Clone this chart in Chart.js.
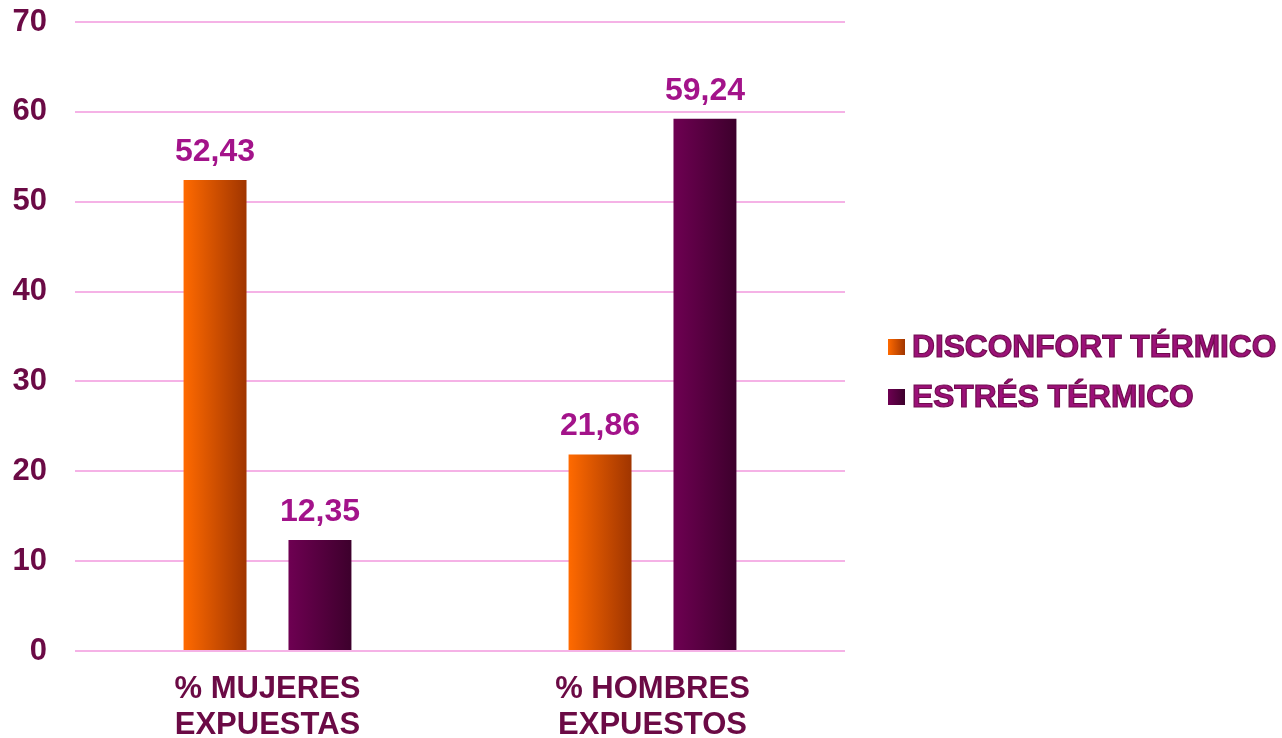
<!DOCTYPE html>
<html>
<head>
<meta charset="utf-8">
<script src="https://cdn.jsdelivr.net/npm/chart.js@4/dist/chart.umd.min.js"></script>
<style>
  html, body { margin: 0; padding: 0; background: #fff; }
  #wrap { width: 1282px; height: 738px; position: relative; }
</style>
</head>
<body>
<div id="wrap"><canvas id="chart"></canvas></div>
<script>
const categories = [["% MUJERES", "EXPUESTAS"], ["% HOMBRES", "EXPUESTOS"]];
const seriesNames = ["DISCONFORT TÉRMICO", "ESTRÉS TÉRMICO"];
const disconfort = [52.43, 21.86];
const estres = [12.35, 59.24];
const yTicks = [0, 10, 20, 30, 40, 50, 60, 70];

const FONT = "'Liberation Sans', Arial, sans-serif";
const TICK_COLOR = "#6b0a45";
const LABEL_COLOR = "#a3138a";
const GRID_COLOR = "#f5b2e6";

const gradStops = [
  ["#ff6a00", "#a03500"],
  ["#6e0052", "#3d002c"]
];

function fmt(v) {
  return v.toFixed(2).replace(".", ",");
}

// horizontal gradient per bar
const barGradient = {
  id: "barGradient",
  beforeDatasetsDraw(chart) {
    const ctx = chart.ctx;
    chart.data.datasets.forEach((ds, i) => {
      const meta = chart.getDatasetMeta(i);
      meta.data.forEach((bar) => {
        const left = bar.x - bar.width / 2;
        const right = bar.x + bar.width / 2;
        const g = ctx.createLinearGradient(left, 0, right, 0);
        g.addColorStop(0, gradStops[i][0]);
        g.addColorStop(1, gradStops[i][1]);
        bar.options = Object.assign({}, bar.options, { backgroundColor: g });
      });
    });
  }
};

const valueLabels = {
  id: "valueLabels",
  afterDatasetsDraw(chart) {
    const ctx = chart.ctx;
    ctx.save();
    ctx.font = "bold 32px " + FONT;
    ctx.fillStyle = LABEL_COLOR;
    ctx.textAlign = "center";
    ctx.textBaseline = "middle";
    chart.data.datasets.forEach((ds, i) => {
      const meta = chart.getDatasetMeta(i);
      meta.data.forEach((bar, j) => {
        ctx.fillText(fmt(ds.data[j]), bar.x, bar.y - 28);
      });
    });
    ctx.restore();
  }
};

const sideLegend = {
  id: "sideLegend",
  afterDraw(chart) {
    const ctx = chart.ctx;
    ctx.save();
    ctx.font = "bold 31.7px " + FONT;
    ctx.textBaseline = "middle";
    ctx.textAlign = "left";
    seriesNames.forEach((name, i) => {
      const y = 347 + i * 50;
      const g = ctx.createLinearGradient(888, 0, 905, 0);
      g.addColorStop(0, gradStops[i][0]);
      g.addColorStop(1, gradStops[i][1]);
      ctx.fillStyle = g;
      ctx.fillRect(888, y - 8, 17, 16);
      ctx.fillStyle = "#9b1178";
      ctx.fillText(name, 912, y + 1);
      ctx.lineWidth = 1.2;
      ctx.strokeStyle = "#700b4e";
      ctx.strokeText(name, 912, y + 1);
    });
    ctx.restore();
  }
};

new Chart(document.getElementById("chart"), {
  type: "bar",
  data: {
    labels: categories,
    datasets: [
      { label: seriesNames[0], data: disconfort, backgroundColor: gradStops[0][0] },
      { label: seriesNames[1], data: estres, backgroundColor: gradStops[1][0] }
    ]
  },
  options: {
    responsive: true,
    maintainAspectRatio: false,
    animation: false,
    categoryPercentage: 0.545,
    barPercentage: 0.6,
    layout: { padding: { top: 22, right: 437, left: 0, bottom: 0 } },
    plugins: {
      legend: { display: false },
      tooltip: { enabled: false }
    },
    scales: {
      x: {
        grid: { display: false, drawTicks: false },
        border: { display: false },
        ticks: {
          color: TICK_COLOR,
          font: { family: FONT, size: 31, weight: "bold", lineHeight: 1.15 },
          padding: 21,
          maxRotation: 0
        },
        afterFit(s) { s.height = 87; }
      },
      y: {
        min: 0,
        max: 70,
        afterBuildTicks(s) { s.ticks = yTicks.map(v => ({ value: v })); },
        // invisible tick marks give the gap between labels and plot
        grid: { color: GRID_COLOR, lineWidth: 2, drawTicks: true, tickLength: 28, tickColor: "rgba(0,0,0,0)" },
        border: { display: false },
        ticks: {
          color: TICK_COLOR,
          font: { family: FONT, size: 31, weight: "bold" },
          padding: 0
        },
        afterFit(s) { s.width = 75; }
      }
    }
  },
  plugins: [barGradient, valueLabels, sideLegend]
});
</script>
</body>
</html>
